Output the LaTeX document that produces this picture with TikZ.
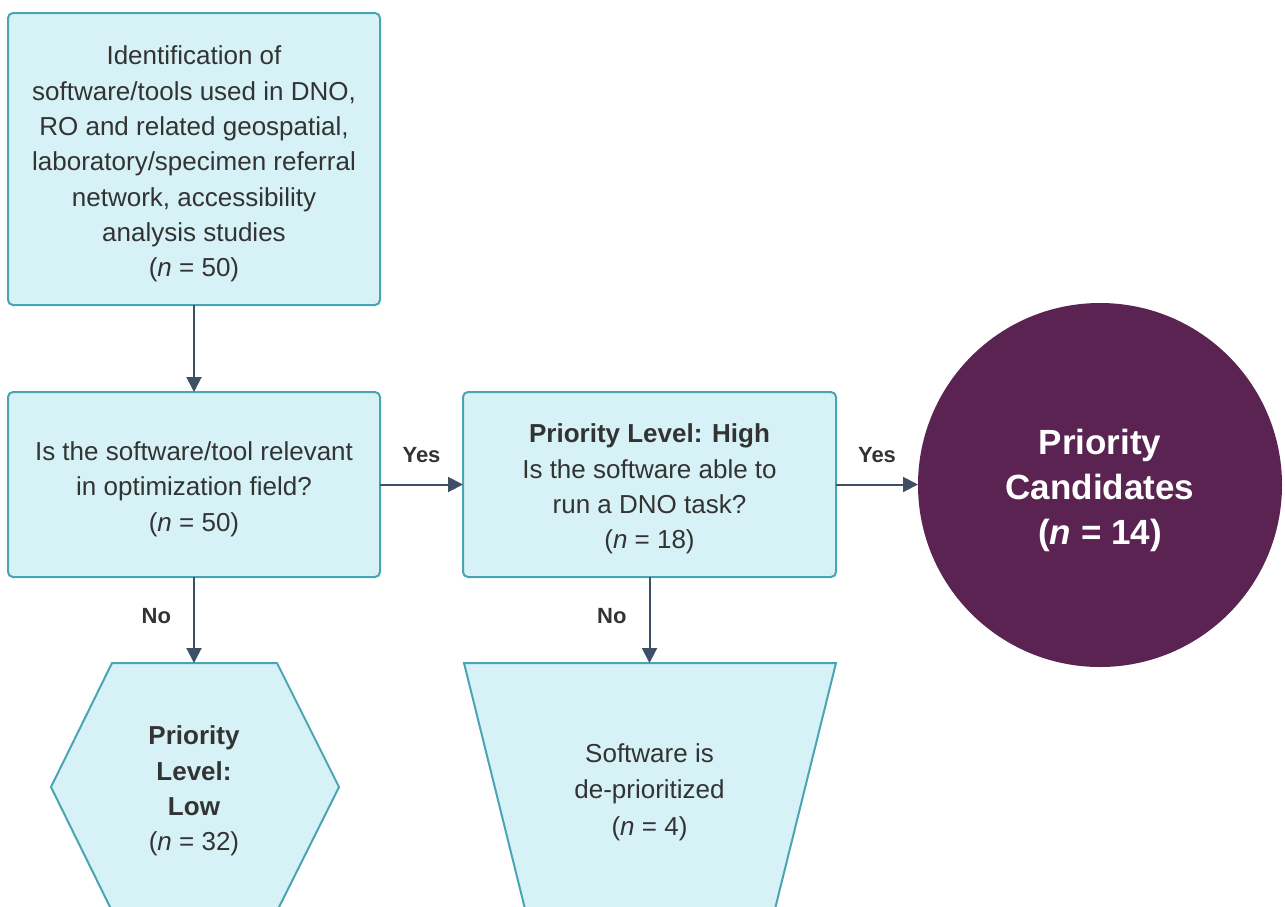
\documentclass[tikz,border=0pt]{standalone}
\usepackage{fontspec}
\setmainfont{Liberation Sans}
\usetikzlibrary{arrows.meta,shapes.geometric}
\definecolor{boxfill}{HTML}{D6F2F6}
\definecolor{boxline}{HTML}{4AA5B3}
\definecolor{txt}{HTML}{333333}
\definecolor{arr}{HTML}{3E4F66}
\definecolor{plum}{HTML}{5A2352}
\begin{document}
\begin{tikzpicture}[x=1pt,y=-1pt,
  shapestyle/.style={draw=boxline, fill=boxfill, line width=2pt},
  box/.style={shapestyle, rounded corners=5pt, inner sep=0pt, outer sep=0pt},
  plain/.style={align=center, text=txt, font=\fontsize{26}{35.3}\selectfont, inner sep=0pt},
  conn/.style={draw=arr, line width=2pt, -{Triangle[length=15pt,width=15pt]}},
  lab/.style={text=txt, font=\fontsize{22}{26}\selectfont\bfseries, inner sep=0pt},
  bigcirc/.style={circle, fill=plum, inner sep=0pt, outer sep=0pt},
  circtext/.style={text=white, align=center, inner sep=0pt,
    font=\fontsize{35}{45}\selectfont\bfseries}
]
\useasboundingbox (0,0) rectangle (1285,906);
\clip (0,0) rectangle (1285,906);

\node[box, minimum width=372pt, minimum height=292pt] (id) at (194,159) {};
\node[plain] (idtext) at (194,164)
  {Identification of\\software/tools used in DNO,\\RO and related geospatial,\\laboratory/specimen referral\\network, accessibility\\analysis studies\\(\textit{n} = 50)};

\node[box, minimum width=372pt, minimum height=185pt] (rel) at (194,484.5) {};
\node[plain] (reltext) at (194,489)
  {Is the software/tool relevant\\in optimization field?\\(\textit{n} = 50)};

\node[box, minimum width=373pt, minimum height=185pt] (high) at (649.5,484.5) {};
\node[plain] (hightext) at (649.5,489)
  {\textbf{Priority Level: High}\\Is the software able to\\run a DNO task?\\(\textit{n} = 18)};

\node[bigcirc, minimum size=364pt] (cand) at (1100,485) {};
\node[circtext] (candtext) at (1100,490)
  {Priority\\Candidates\\(\textit{n} = 14)};

\coordinate (h1) at (112,663);
\coordinate (h2) at (277,663);
\coordinate (h3) at (339,787);
\coordinate (h4) at (277,911);
\coordinate (h5) at (112,911);
\coordinate (h6) at (51,787);
\coordinate (htop) at (194,663);
\draw[shapestyle] (h1) -- (h2) -- (h3) -- (h4) -- (h5) -- (h6) -- cycle;
\node[plain] (hextext) at (194,791)
  {\textbf{Priority}\\\textbf{Level:}\\\textbf{Low}\\(\textit{n} = 32)};

\coordinate (t1) at (464,663);
\coordinate (t2) at (836,663);
\coordinate (t3) at (773.5,915);
\coordinate (t4) at (526.5,915);
\coordinate (ttop) at (649.5,663);
\draw[shapestyle] (t1) -- (t2) -- (t3) -- (t4) -- cycle;
\node[plain, font=\fontsize{26}{36.5}\selectfont] (trap) at (649.5,792)
  {Software is\\de-prioritized\\(\textit{n} = 4)};

\draw[conn] (id.south) -- (rel.north);
\draw[conn] (rel.east) -- node[lab, above=21pt] (yes1) {Yes} (high.west);
\draw[conn] (high.east) -- node[lab, above=21pt] (yes2) {Yes} (high.east -| cand.west);
\draw[conn] (rel.south) -- node[lab, left=22pt, yshift=4pt] (no1) {No} (htop);
\draw[conn] (high.south) -- node[lab, left=22pt, yshift=4pt] (no2) {No} (ttop);
\end{tikzpicture}
\end{document}
